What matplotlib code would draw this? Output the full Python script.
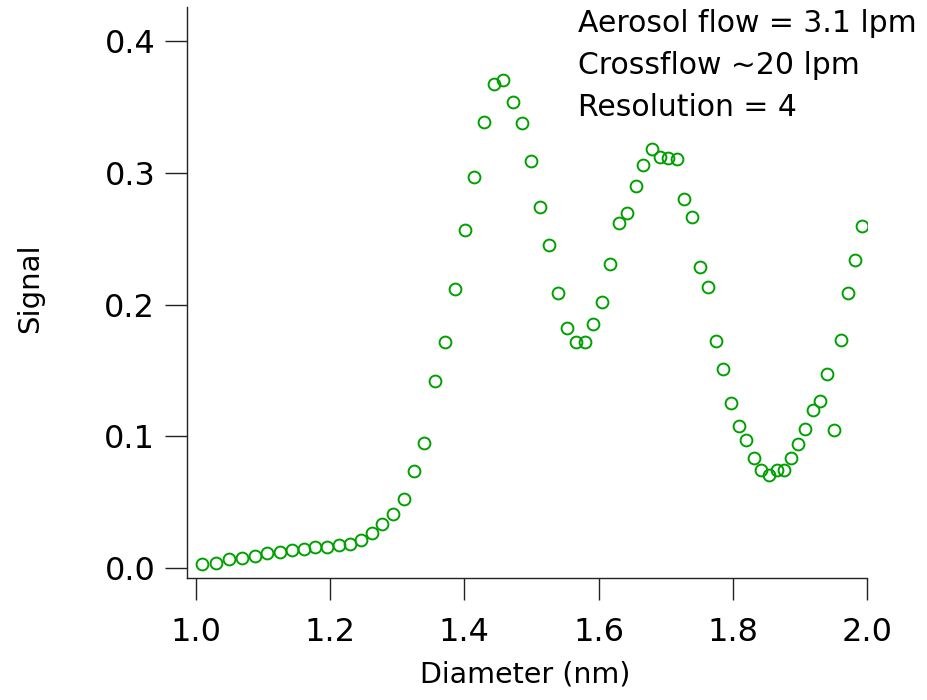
import matplotlib
matplotlib.use('Agg')
import matplotlib.pyplot as plt

# diameter (nm) and signal
diameter = [1.0098, 1.0302, 1.0496, 1.0689, 1.0883, 1.1066, 1.1251, 1.1434, 1.1608, 1.1781,
            1.1955, 1.2129, 1.2298, 1.2461, 1.2625, 1.2778, 1.2938, 1.3102, 1.3258, 1.3407,
            1.3559, 1.3709, 1.3856, 1.4005, 1.4148, 1.4293, 1.4437, 1.4580, 1.4720, 1.4859,
            1.4993, 1.5131, 1.5265, 1.5402, 1.5529, 1.5660, 1.5794, 1.5920, 1.6045, 1.6173,
            1.6300, 1.6425, 1.6550, 1.6660, 1.6799, 1.6913, 1.7037, 1.7162, 1.7275, 1.7394,
            1.7509, 1.7628, 1.7747, 1.7856, 1.7970, 1.8089, 1.8198, 1.8312, 1.8417, 1.8532,
            1.8651, 1.8764, 1.8864, 1.8973, 1.9077, 1.9187, 1.9296, 1.9400, 1.9504, 1.9609,
            1.9717, 1.9817, 1.9926]
signal = [0.0030, 0.0038, 0.0068, 0.0080, 0.0096, 0.0116, 0.0124, 0.0139, 0.0146, 0.0159,
          0.0164, 0.0175, 0.0182, 0.0215, 0.0268, 0.0336, 0.0410, 0.0526, 0.0735, 0.0953,
          0.1419, 0.1720, 0.2118, 0.2568, 0.2970, 0.3385, 0.3674, 0.3701, 0.3537, 0.3375,
          0.3086, 0.2737, 0.2449, 0.2092, 0.1819, 0.1718, 0.1718, 0.1850, 0.2021, 0.2310,
          0.2622, 0.2698, 0.2903, 0.3060, 0.3180, 0.3120, 0.3112, 0.3107, 0.2803, 0.2664,
          0.2283, 0.2134, 0.1723, 0.1513, 0.1255, 0.1080, 0.0972, 0.0837, 0.0744, 0.0708,
          0.0746, 0.0746, 0.0835, 0.0946, 0.1057, 0.1204, 0.1270, 0.1475, 0.1052, 0.1733,
          0.2090, 0.2338, 0.2600]

x_ticks = [1.0, 1.2, 1.4, 1.6, 1.8, 2.0]
y_ticks = [0.0, 0.1, 0.2, 0.3, 0.4]
notes = ['Aerosol flow = 3.1 lpm', 'Crossflow ~20 lpm', 'Resolution = 4']

fig = plt.figure(figsize=(9.27, 7.0), dpi=100)
ax = fig.add_axes([0.2020, 0.1739, 0.7336, 0.8157])

ax.plot(diameter, signal, 'o', ls='none', mfc='none', mec='#00a000', ms=8.5, mew=1.4)

ax.set_xlim(0.9875, 2.0)
ax.set_ylim(-0.0076, 0.4256)
ax.set_xticks(x_ticks)
ax.set_yticks(y_ticks)
ax.set_xticklabels([f'{t:.1f}' for t in x_ticks], fontsize=23)
ax.set_yticklabels([f'{t:.1f}' for t in y_ticks], fontsize=23)

for side in ['top', 'right']:
    ax.spines[side].set_visible(False)
for side in ['left', 'bottom']:
    ax.spines[side].set_color('#222222')
    ax.spines[side].set_linewidth(1.0)
ax.tick_params(axis='both', direction='out', length=16, width=1.0, color='#222222')
ax.tick_params(axis='y', pad=7)
ax.tick_params(axis='x', pad=12)

fig.text(30 / 927, 1 - 288 / 700, 'Signal', rotation=90, ha='center', va='center',
         fontsize=21)
fig.text(525 / 927, 1 - 675 / 700, 'Diameter (nm)', ha='center', va='center',
         fontsize=20.5)

for i, line in enumerate(notes):
    fig.text(578 / 927, 1 - (32 + 42 * i) / 700, line, ha='left', va='baseline', fontsize=21.5)

fig.savefig('out.png', dpi=100)
